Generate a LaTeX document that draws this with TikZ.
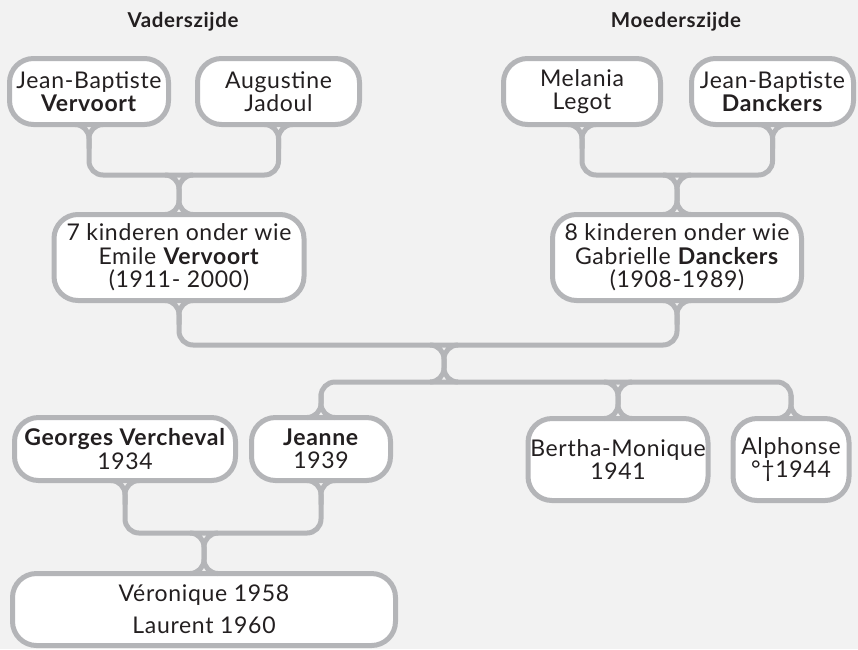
\documentclass[tikz,border=0pt]{standalone}
\usepackage{fontspec}
\setmainfont{Lato}[LetterSpace=3]
\definecolor{linegray}{RGB}{180,181,184}
\definecolor{paper}{RGB}{242,242,242}
\definecolor{ink}{RGB}{35,31,32}
\tikzset{
  person/.style={draw=linegray, line width=5pt, fill=white, rounded corners=24pt, outer sep=0pt, inner sep=0pt, align=center, text=ink, font=\fontsize{23}{23.5}\selectfont},
  link/.style={draw=linegray, line width=5pt, rounded corners=14pt},
  side/.style={text=ink, font=\bfseries\fontsize{20.5}{24}\selectfont},
}
\begin{document}
\begin{tikzpicture}[x=1pt,y=-1pt]
\fill[paper] (0,0) rectangle (858,649);
\useasboundingbox (0,0) rectangle (858,649);
\node[side, anchor=base] (vader) at (183,27){Vaderszijde};
\node[side, anchor=base] (moeder) at (676,27){Moederszijde};
\node[person, minimum width=159, minimum height=66] (jbv) at (89,91.5){Jean-Baptiste\\\textbf{Vervoort}};
\node[person, minimum width=162, minimum height=66] (aug) at (278.5,91.5){Augustine\\Jadoul};
\node[person, minimum width=157, minimum height=66] (mel) at (582,91.5){Melania\\Legot};
\node[person, minimum width=162, minimum height=66] (jbd) at (772.5,91.5){Jean-Baptiste\\\textbf{Danckers}};
\node[person, minimum width=250, minimum height=86] (emile) at (179,257.5){7 kinderen onder wie\\Emile \textbf{Vervoort}\\(1911- 2000)};
\node[person, minimum width=249, minimum height=86] (gabr) at (677,257.5){8 kinderen onder wie\\Gabrielle \textbf{Danckers}\\(1908-1989)};
\node[person, minimum width=221, minimum height=63] (georges) at (125,449){\textbf{Georges Vercheval}\\1934};
\node[person, minimum width=139, minimum height=63] (jeanne) at (321,449){\textbf{Jeanne}\\1939};
\node[person, minimum width=180, minimum height=82] (bertha) at (618,459.5){Bertha-Monique\\1941};
\node[person, minimum width=116, minimum height=82] (alph) at (791,459.5){Alphonse\\°†1944};
\node[person, minimum width=383, minimum height=72] (kids) at (204,609.5){Véronique 1958\\[8.5pt]Laurent 1960};
\coordinate (j0) at (179,175);
\coordinate (k0) at (677,175);
\coordinate (j1) at (444,345);
\coordinate (j2) at (444,382);
\coordinate (j3) at (204,533);
% vaderszijde
\draw[link] (jbv.south) ++(-14,0) -- (jbv.south) -- (jbv.south |- j0) -- (aug.south |- j0) -- (aug.south) -- ++(14,0);
\draw[link] (jbv.south) ++(14,0) -- (jbv.south) -- ++(0,24);
\draw[link] (aug.south) ++(-14,0) -- (aug.south) -- ++(0,24);
\draw[link] (j0) ++(-14,0) -- (j0) -- (emile.north) -- ++(14,0);
\draw[link] (j0) ++(14,0) -- (j0) -- (emile.north) -- ++(-14,0);
% moederszijde
\draw[link] (mel.south) ++(-14,0) -- (mel.south) -- (mel.south |- k0) -- (jbd.south |- k0) -- (jbd.south) -- ++(14,0);
\draw[link] (mel.south) ++(14,0) -- (mel.south) -- ++(0,24);
\draw[link] (jbd.south) ++(-14,0) -- (jbd.south) -- ++(0,24);
\draw[link] (k0) ++(-14,0) -- (k0) -- (gabr.north) -- ++(14,0);
\draw[link] (k0) ++(14,0) -- (k0) -- (gabr.north) -- ++(-14,0);
% ouders
\draw[link] (emile.south) ++(-14,0) -- (emile.south) -- (emile.south |- j1) -- (gabr.south |- j1) -- (gabr.south) -- ++(14,0);
\draw[link] (emile.south) ++(14,0) -- (emile.south) -- ++(0,24);
\draw[link] (gabr.south) ++(-14,0) -- (gabr.south) -- ++(0,24);
\draw[link] (j1) ++(-14,0) -- (j1) -- (j2) -- ++(-14,0);
\draw[link] (j1) ++(14,0) -- (j1) -- (j2) -- ++(14,0);
% kinderen
\draw[link] (jeanne.north) ++(-14,0) -- (jeanne.north) -- (jeanne.north |- j2) -- (alph.north |- j2) -- (alph.north) -- ++(14,0);
\draw[link] (jeanne.north) ++(14,0) -- (jeanne.north) -- ++(0,-24);
\draw[link] (alph.north) ++(-14,0) -- (alph.north) -- ++(0,-24);
\draw[link] (bertha.north |- j2) ++(-14,0) -- (bertha.north |- j2) -- (bertha.north) -- ++(-14,0);
\draw[link] (bertha.north |- j2) ++(14,0) -- (bertha.north |- j2) -- (bertha.north) -- ++(14,0);
% kleinkinderen
\draw[link] (georges.south) ++(-14,0) -- (georges.south) -- (georges.south |- j3) -- (jeanne.south |- j3) -- (jeanne.south) -- ++(14,0);
\draw[link] (georges.south) ++(14,0) -- (georges.south) -- ++(0,24);
\draw[link] (jeanne.south) ++(-14,0) -- (jeanne.south) -- ++(0,24);
\draw[link] (j3) ++(-14,0) -- (j3) -- (kids.north) -- ++(14,0);
\draw[link] (j3) ++(14,0) -- (j3) -- (kids.north) -- ++(-14,0);
\end{tikzpicture}
\end{document}
